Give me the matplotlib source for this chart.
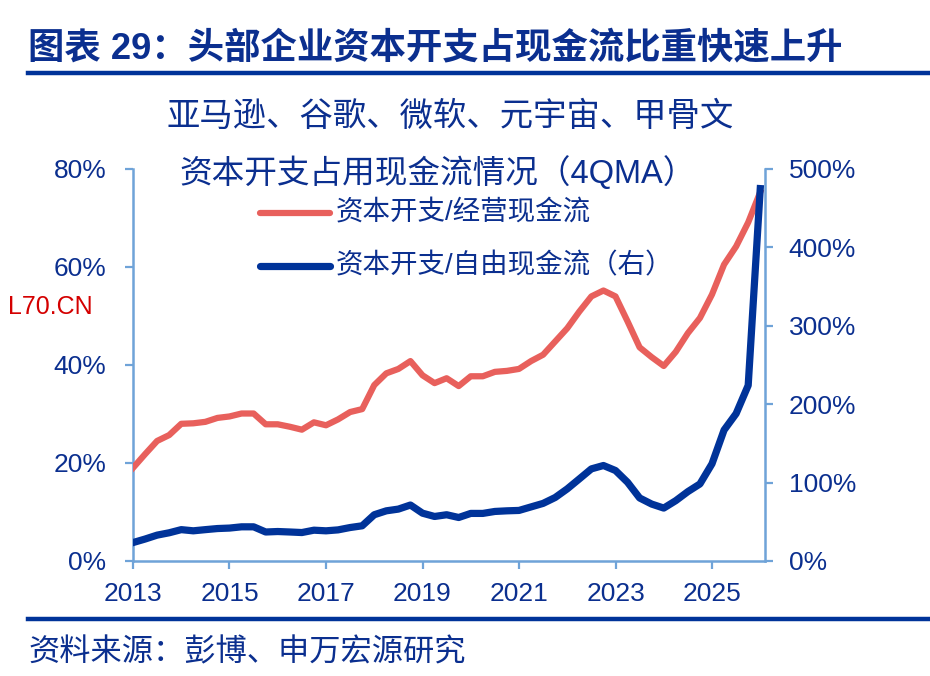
import numpy as np
import matplotlib
matplotlib.use("Agg")
import matplotlib.pyplot as plt
from matplotlib.lines import Line2D

plt.rcParams['font.family'] = ['Liberation Sans', 'Noto Sans CJK SC', 'DejaVu Sans']

# quarterly, 4QMA, starting 2013Q1
start_year = 2013
capex_to_ocf = [19.0, 21.8, 24.5, 25.7, 28.0, 28.1, 28.4, 29.2, 29.5, 30.1,
                30.1, 27.9, 27.9, 27.4, 26.8, 28.3, 27.7, 28.9, 30.4, 31.0,
                35.9, 38.3, 39.2, 40.8, 37.9, 36.3, 37.3, 35.7, 37.7, 37.7,
                38.6, 38.8, 39.2, 40.8, 42.1, 44.8, 47.5, 50.9, 54.0, 55.2,
                54.0, 48.9, 43.6, 41.6, 39.8, 42.7, 46.5, 49.6, 54.4, 60.5,
                64.2, 69.1, 75.3]
capex_to_fcf = [23.5, 28.0, 33.0, 36.0, 40.0, 38.5, 40.0, 41.4, 42.0, 43.6,
                43.6, 37.0, 37.6, 37.0, 36.3, 39.3, 38.5, 39.7, 42.7, 44.9,
                59.0, 64.0, 66.2, 71.4, 61.0, 56.8, 59.0, 55.5, 60.7, 60.7,
                63.2, 64.0, 64.5, 69.0, 73.5, 81.0, 92.0, 104.7, 117.5, 121.8,
                115.4, 100.4, 80.4, 72.6, 67.5, 77.0, 88.5, 98.3, 124.0, 167.0,
                188.0, 224.0, 475.0]
year_ticks = [2013, 2015, 2017, 2019, 2021, 2023, 2025]
left_ticks = [0, 20, 40, 60, 80]
right_ticks = [0, 100, 200, 300, 400, 500]

x = start_year + np.arange(len(capex_to_ocf)) / 4

navy = '#0b2f8f'
line_blue = '#003399'
red = '#e8605c'
spine_c = '#6fa3d8'

fig = plt.figure(figsize=(9.3, 6.76), dpi=100)
W, H = 930, 676
ax = fig.add_axes([133 / W, 115 / H, 632 / W, 392 / H])
ax2 = ax.twinx()

ax.plot(x, capex_to_ocf, color=red, lw=4.5, solid_joinstyle='round', zorder=3)
ax2.plot(x, capex_to_fcf, color=line_blue, lw=5.2, solid_joinstyle='round', zorder=3)

ax.set_xlim(2013, 2013 + 632 / 48.25)
ax.set_ylim(0, 80)
ax2.set_ylim(0, 500)
ax.set_xticks(year_ticks)
ax.set_xticklabels([str(y) for y in year_ticks])
ax.set_yticks(left_ticks)
ax.set_yticklabels([f"{v}%" for v in left_ticks])
ax2.set_yticks(right_ticks)
ax2.set_yticklabels([f"{v}%" for v in right_ticks])

for a in (ax, ax2):
    a.spines['top'].set_visible(False)
    for s in ('left', 'right', 'bottom'):
        a.spines[s].set_color(spine_c)
        a.spines[s].set_linewidth(1.8)
    a.patch.set_visible(False)
ax2.spines['left'].set_visible(False)
ax2.spines['bottom'].set_visible(False)
ax.spines['right'].set_visible(False)

ax.tick_params(axis='y', direction='out', length=6, width=1.6, color=spine_c,
               labelsize=19, labelcolor=navy, pad=13)
ax.tick_params(axis='x', direction='out', length=6, width=1.6, color=spine_c,
               labelsize=19, labelcolor=navy, pad=9)
ax2.tick_params(axis='y', direction='out', length=6, width=1.6, color=spine_c,
                labelsize=19, labelcolor=navy, pad=11)

# titles
fig.text(28 / W, 1 - 49 / H, "图表 29：头部企业资本开支占现金流比重快速上升",
         fontsize=26.2, fontweight='bold', color=navy, va='center', ha='left')
fig.add_artist(Line2D([28 / W, 1.0], [1 - 73 / H] * 2, color=line_blue, lw=3.2))
fig.text(450 / W, 1 - 117 / H, "亚马逊、谷歌、微软、元宇宙、甲骨文",
         fontsize=24, color=navy, va='center', ha='center')
fig.text(438 / W, 1 - 173 / H, "资本开支占用现金流情况（4QMA）",
         fontsize=23.5, color=navy, va='center', ha='center')

# legend
fig.add_artist(Line2D([260 / W, 330 / W], [1 - 213 / H] * 2, color=red, lw=4.5,
                      solid_capstyle='round'))
fig.text(336 / W, 1 - 213 / H, "资本开支/经营现金流", fontsize=19.8, color=navy,
         va='center', ha='left')
fig.add_artist(Line2D([260 / W, 330 / W], [1 - 266 / H] * 2, color=line_blue, lw=5.2,
                      solid_capstyle='round'))
fig.text(336 / W, 1 - 266 / H, "资本开支/自由现金流（右）", fontsize=19.8, color=navy,
         va='center', ha='left')

# watermark
fig.text(8 / W, 1 - 307 / H, "L70.CN", fontsize=18, color='#d40000',
         va='center', ha='left')

# source
fig.add_artist(Line2D([28 / W, 1.0], [1 - 619 / H] * 2, color=line_blue, lw=3.2))
fig.text(28 / W, 1 - 653 / H, "资料来源：彭博、申万宏源研究",
         fontsize=22.5, color=navy, va='center', ha='left')

fig.savefig("out.png", dpi=100)
